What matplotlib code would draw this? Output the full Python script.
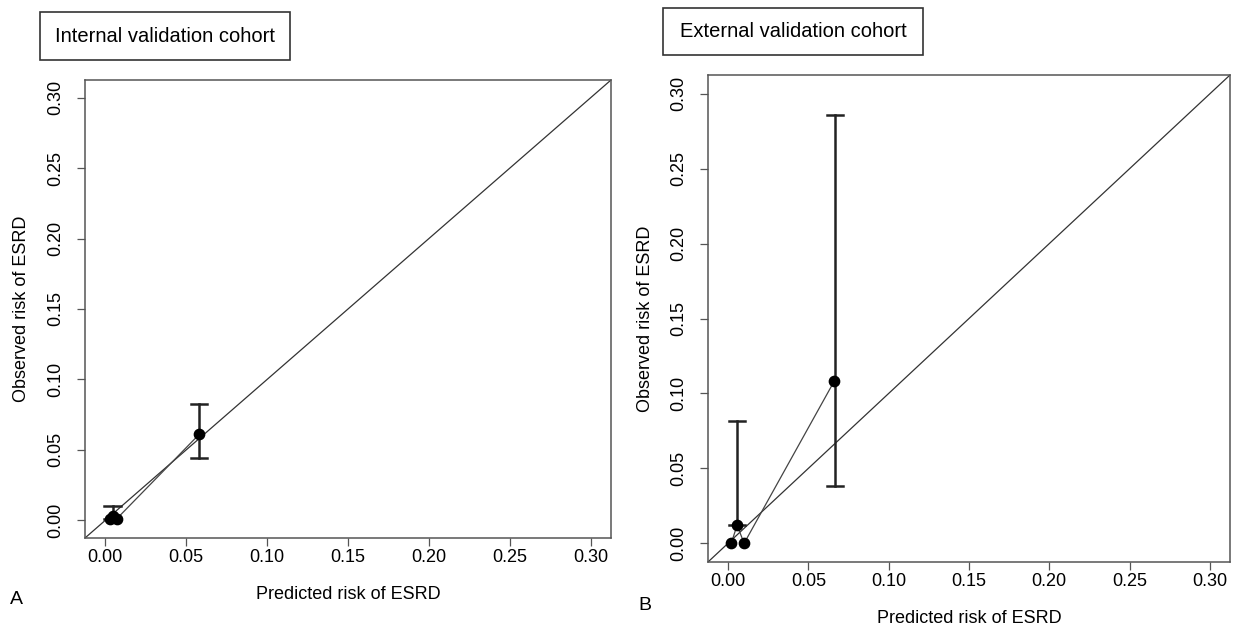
import matplotlib
matplotlib.use("Agg")
from matplotlib import pyplot as plt
from matplotlib.patches import Rectangle

plt.rcParams["font.family"] = ["Liberation Sans", "DejaVu Sans"]

# internal validation cohort
int_pred = [0.003, 0.005, 0.007, 0.058]
int_obs = [0.001, 0.003, 0.001, 0.061]
int_err_x = [0.0045, 0.058]
int_err_lo = [0.001, 0.044]
int_err_hi = [0.0105, 0.0825]

# external validation cohort
ext_pred = [0.002, 0.0056, 0.010, 0.066]
ext_obs = [0.000, 0.012, 0.000, 0.108]
ext_err_x = [0.0056, 0.0667]
ext_err_lo = [0.012, 0.038]
ext_err_hi = [0.0815, 0.286]

ticks = [0.00, 0.05, 0.10, 0.15, 0.20, 0.25, 0.30]
lims = (-0.0125, 0.3125)

W, H = 1245, 631


def calPanel(ax, pred, obs, ex, elo, ehi, title, letter, letterpos, box):
    ax.plot(lims, lims, color="#333333", lw=0.9, zorder=1)
    ax.plot(pred, obs, color="#444444", lw=0.9, zorder=2)
    ax.scatter(pred, obs, s=55, color="black", zorder=4)
    for x, lo, hi in zip(ex, elo, ehi):
        ax.plot([x, x], [lo, hi], color="#222222", lw=1.8, zorder=3)
        ax.plot([x - 0.005, x + 0.005], [hi, hi], color="#222222", lw=1.8, zorder=3)
        ax.plot([x - 0.005, x + 0.005], [lo, lo], color="#222222", lw=1.8, zorder=3)
    ax.set_xlim(lims)
    ax.set_ylim(lims)
    ax.set_xticks(ticks)
    ax.set_yticks(ticks)
    ax.set_xticklabels([f"{t:.2f}" for t in ticks], fontsize=13)
    ax.set_yticklabels([f"{t:.2f}" for t in ticks], fontsize=13, rotation=90, va="center")
    ax.tick_params(axis="x", length=6, width=0.9, color="#555555", pad=2)
    ax.tick_params(axis="y", length=6, width=0.9, color="#555555", pad=9)
    for s in ax.spines.values():
        s.set_color("#555555")
        s.set_linewidth(1.1)
    ax.set_xlabel("Predicted risk of ESRD", fontsize=13, labelpad=14)
    ax.set_ylabel("Observed risk of ESRD", fontsize=13, labelpad=12)

    # title box, drawn in pixel positions of the figure
    x0, y0, x1, y1 = box
    fig.patches.append(Rectangle((x0 / W, 1 - y1 / H), (x1 - x0) / W, (y1 - y0) / H,
                                 transform=fig.transFigure, fill=False,
                                 ec="#333333", lw=1.2))
    fig.text((x0 + x1) / 2 / W, 1 - (y0 + y1) / 2 / H, title, fontsize=14.5,
             ha="center", va="center")
    fig.text(letterpos[0] / W, 1 - letterpos[1] / H, letter, fontsize=14,
             va="center", ha="left")


fig = plt.figure(figsize=(W / 100, H / 100), dpi=100)
ax1 = fig.add_axes([85 / W, 1 - 538 / H, 526 / W, 458 / H])
ax2 = fig.add_axes([708 / W, 1 - 562 / H, 522 / W, 487 / H])

calPanel(ax1, int_pred, int_obs, int_err_x, int_err_lo, int_err_hi,
         "Internal validation cohort", "A", (10, 600), (40, 12, 290, 60))
calPanel(ax2, ext_pred, ext_obs, ext_err_x, ext_err_lo, ext_err_hi,
         "External validation cohort", "B", (638, 605), (663, 8, 923, 55))

fig.savefig("out.png", dpi=100)
